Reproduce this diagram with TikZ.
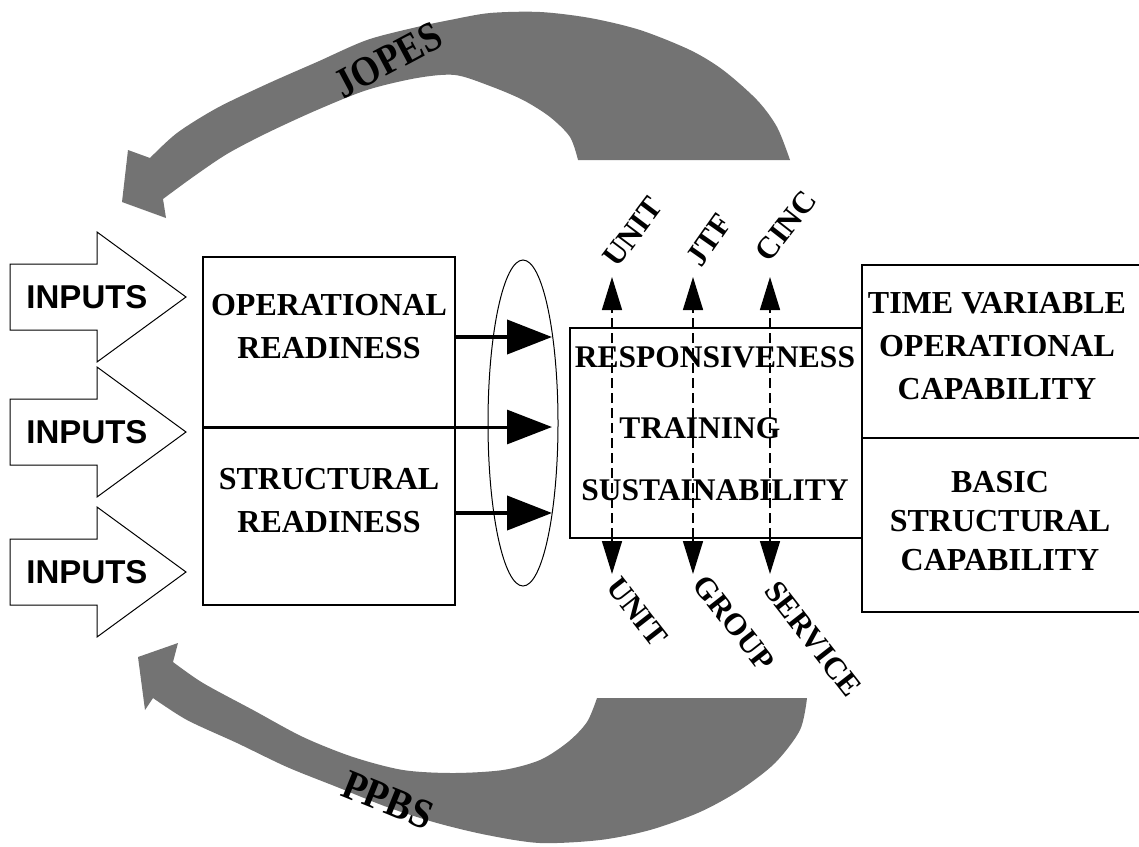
\documentclass[tikz,border=0pt]{standalone}
\usepackage{fontspec}
\setmainfont{Liberation Serif}
\newfontfamily\arialf{Liberation Sans}
\usetikzlibrary{arrows.meta,shapes.geometric}
\tikzset{
  band/.style={fill=black!55},
  lbl/.style={font=\fontsize{32}{43}\selectfont\bfseries, align=center, inner sep=0pt},
  inlbl/.style={font=\arialf\fontsize{33}{36}\selectfont\bfseries, inner sep=0pt},
  rot/.style={font=\fontsize{31}{34}\selectfont\bfseries, inner sep=0pt},
  bandlbl/.style={font=\fontsize{42}{44}\selectfont\bfseries, inner sep=0pt, text=black},
  inarrow/.style={draw=black, line width=1pt, fill=white},
  thickarrow/.style={line width=4pt, -{Triangle[length=45pt,width=34pt]}},
  dasharrow/.style={line width=1.5pt, dash pattern=on 10pt off 5pt, -{Triangle[length=33pt,width=20pt]}},
  solidtip/.style={line width=1.5pt, -{Triangle[length=33pt,width=20pt]}},
  boxline/.style={line width=1.2pt}
}
\begin{document}
\begin{tikzpicture}[x=1pt,y=-1pt]
\useasboundingbox (0,0) rectangle (1139,846);

% JOPES band
\fill[band] plot[smooth] coordinates {(790,160) (777,127) (757,100) (723,70) (690,50) (640,30) (590,18) (540,12) (490,13) (450,20) (417,27) (367,40) (317,62) (267,84) (217,108) (177,133) (150,158)}
  -- (128,150) -- (122,202) -- (166,218) -- (163,199)
  -- plot[smooth] coordinates {(163,199) (193,177) (227,154) (267,133) (317,110) (367,90) (417,78) (455,75) (490,86) (523,100) (550,117) (570,137) (578,160)}
  -- cycle;
\node[bandlbl, rotate=28, xscale=0.88] (jopes) at (388,60) {JOPES};

% PPBS band
\fill[band] plot[smooth] coordinates {(807,698) (800,730) (775,763) (740,790) (700,812) (650,830) (600,840) (540,843) (487,835) (437,823) (387,807) (337,787) (287,767) (237,743) (187,720) (153,698)}
  -- (145,710) -- (138,657) -- (178,643) -- (173,662)
  -- plot[smooth] coordinates {(173,662) (203,683) (253,710) (303,737) (353,757) (403,770) (453,773) (503,770) (540,760) (568,742) (587,722) (597,698)}
  -- cycle;
\node[bandlbl, rotate=-22, xscale=0.92] (ppbs) at (388,800) {PPBS};

% input arrows
\foreach \yc/\nm in {297/in1,432/in2,572/in3}{
  \draw[inarrow] (10,\yc-33) -- (97,\yc-33) -- (97,\yc-65) -- (186,\yc) -- (97,\yc+65) -- (97,\yc+33) -- (10,\yc+33) -- cycle;
  \node[inlbl] (\nm) at (87,\yc) {INPUTS};
}

% left box
\draw[boxline] (203,257) rectangle (455,605);
\node[lbl] (opr) at (329,327) {OPERATIONAL\\READINESS};
\node[lbl] (str) at (329,501) {STRUCTURAL\\READINESS};

% ellipse
\node[draw, line width=1pt, ellipse, inner sep=0pt, minimum width=70pt, minimum height=326pt] (ell) at (523,423) {};

\coordinate (a1s) at (455,337); \coordinate (a1e) at (552,337);
\coordinate (a2s) at (203,427); \coordinate (a2e) at (552,427);
\coordinate (a3s) at (455,513); \coordinate (a3e) at (552,513);
\draw[thickarrow] (a1s) -- (a1e);
\draw[thickarrow, line width=3pt] (a2s) -- (a2e);
\draw[thickarrow] (a3s) -- (a3e);

% center box
\draw[boxline] (570,328) rectangle (862,538);
\node[lbl, font=\fontsize{31.5}{36}\selectfont\bfseries] (resp) at (715,357) {RESPONSIVENESS};
\node[lbl, font=\fontsize{31.5}{36}\selectfont\bfseries] (trai) at (700,428) {TRAINING};
\node[lbl, font=\fontsize{31.5}{36}\selectfont\bfseries] (sust) at (715,490) {SUSTAINABILITY};

% right box
\draw[boxline] (1145,265) -- (862,265) -- (862,612) -- (1145,612);
\draw[boxline] (862,438) -- (1145,438);
\node[lbl, font=\fontsize{32}{43}\selectfont\bfseries] (tvoc) at (997,346) {TIME VARIABLE\\OPERATIONAL\\CAPABILITY};
\node[lbl, font=\fontsize{32}{39}\selectfont\bfseries] (bsc) at (1000,521) {BASIC\\STRUCTURAL\\CAPABILITY};

% dashed arrows
\foreach \xx/\nm in {612/u,693/j,770/c}{
  \coordinate (\nm b) at (\xx,538);
  \coordinate (\nm t) at (\xx,277);
  \coordinate (\nm d) at (\xx,574);
  \draw[dasharrow] (\nm b) -- (\nm t);
  \draw[solidtip] (\nm b) -- (\nm d);
}

% rotated labels
\node[rot, rotate=53] (tunit) at (633,232) {UNIT};
\node[rot, rotate=55] (tjtf) at (709,240) {JTF};
\node[rot, rotate=52] (tcinc) at (786,226) {CINC};
\node[rot, rotate=-52] (bunit) at (637,612) {UNIT};
\node[rot, rotate=-52] (bgroup) at (734,623) {GROUP};
\node[rot, rotate=-52] (bserv) at (813,639) {SERVICE};
\end{tikzpicture}
\end{document}
